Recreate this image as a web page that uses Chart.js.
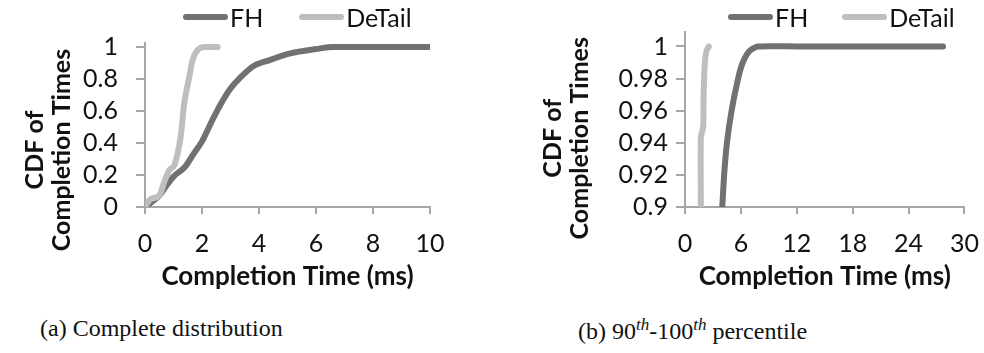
<!DOCTYPE html>
<html lang="en">
<head>
  <meta charset="UTF-8">
  <title>CDF of Completion Times</title>
  <script src="https://cdn.jsdelivr.net/npm/chart.js"></script>
  <style>
    body { margin: 0; background: #fff; width: 984px; height: 353px; position: relative; overflow: hidden; }
    .panel { position: absolute; top: 0; height: 300px; }
    #left { left: 0; width: 460px; }
    #right { left: 490px; width: 504px; }
    .legend {
      position: absolute; top: 2px; height: 30px;
      display: flex; align-items: center; gap: 36px;
      font-family: Lato, "Open Sans", sans-serif; font-size: 25px; color: #111;
    }
    .legend .item { display: flex; align-items: center; }
    .legend .swatch { width: 45px; height: 6px; border-radius: 3px; margin-right: 2px; }
    .caption {
      position: absolute; top: 315px;
      font-family: "Liberation Serif", "DejaVu Serif", serif;
      font-size: 24px; color: #111; white-space: nowrap;
    }
    .caption sup { font-size: 17px; font-style: italic; }
  </style>
</head>
<body>
  <div class="panel" id="left"><canvas id="chartA"></canvas></div>
  <div class="panel" id="right"><canvas id="chartB"></canvas></div>
  <div class="legend" id="legendA" style="left:183px"></div>
  <div class="legend" id="legendB" style="left:728px;gap:34px"></div>
  <div class="caption" style="left:40px">(a) Complete distribution</div>
  <div class="caption" style="left:578px">(b) 90<sup>th</sup>-100<sup>th</sup> percentile</div>

  <script>
    // (a) complete distribution
    const fhTimes = [0, 0.3, 0.5, 0.7, 1.0, 1.4, 1.7, 2.0, 2.3, 2.65, 3.0, 3.35, 3.8, 4.4, 5.1, 6.0, 6.6, 8, 10];
    const fhCdf   = [0, 0.04, 0.07, 0.12, 0.19, 0.25, 0.33, 0.41, 0.52, 0.64, 0.74, 0.81, 0.88, 0.92, 0.96, 0.987, 1.0, 1.0, 1.0];
    const dtTimes = [0, 0.2, 0.5, 0.68, 0.85, 1.03, 1.14, 1.26, 1.37, 1.55, 1.67, 1.84, 2.1, 2.55];
    const dtCdf   = [0, 0.05, 0.07, 0.16, 0.23, 0.26, 0.33, 0.45, 0.64, 0.81, 0.92, 0.98, 1.0, 1.0];

    // (b) 90th-100th percentile
    const fhTailTimes = [4.0, 4.2, 4.5, 5.0, 5.7, 6.2, 6.9, 7.8, 12, 20, 27.7];
    const fhTailCdf   = [0.9, 0.92, 0.94, 0.96, 0.98, 0.99, 0.997, 1.0, 1.0, 1.0, 1.0];
    const dtTailTimes = [1.7, 1.7, 1.95, 2.0, 2.13, 2.3, 2.55];
    const dtTailCdf   = [0.9, 0.943, 0.95, 0.97, 0.99, 0.997, 1.0];

    const ticksA = [0, 0.2, 0.4, 0.6, 0.8, 1];
    const ticksB = [0.9, 0.92, 0.94, 0.96, 0.98, 1];

    const FONT = 'Lato, "Open Sans", sans-serif';
    const AXIS = '#a6a6a6';
    const FH_COLOR = '#717171';
    const DT_COLOR = '#bebebe';

    function pts(xs, ys) {
      return xs.map((x, i) => ({ x: x, y: ys[i] }));
    }

    // legend built from the chart's own datasets
    function htmlLegend(chart, id) {
      const box = document.getElementById(id);
      chart.data.datasets.forEach(ds => {
        const item = document.createElement('div');
        item.className = 'item';
        item.innerHTML = `<span class="swatch" style="background:${ds.borderColor}"></span><span>${ds.label}</span>`;
        box.appendChild(item);
      });
    }

    function makeChart(id, opts) {
      const line = (label, xs, ys, color, order) => ({
        label: label,
        data: pts(xs, ys),
        borderColor: color,
        backgroundColor: color,
        borderWidth: 6,
        borderCapStyle: 'round',
        borderJoinStyle: 'round',
        pointRadius: 0,
        tension: opts.tension,
        cubicInterpolationMode: opts.mono ? 'monotone' : 'default',
        order: order
      });
      return new Chart(document.getElementById(id), {
        type: 'line',
        data: {
          datasets: [
            line('FH', opts.fhX, opts.fhY, FH_COLOR, 1),
            line('DeTail', opts.dtX, opts.dtY, DT_COLOR, 0)
          ]
        },
        options: {
          responsive: true,
          maintainAspectRatio: false,
          animation: false,
          layout: { padding: { top: opts.padTop, right: opts.padRight, bottom: 0, left: 0 } },
          plugins: {
            tooltip: { enabled: false },
            legend: { display: false }
          },
          scales: {
            x: {
              type: 'linear',
              min: 0,
              max: opts.xMax,
              ticks: {
                stepSize: opts.xStep,
                color: '#111',
                padding: 15,
                maxRotation: 0,
                font: { family: FONT, size: 25 }
              },
              grid: { drawOnChartArea: false, drawTicks: true, tickLength: 7, color: AXIS, lineWidth: 2 },
              border: { display: true, color: AXIS, width: 2 },
              title: {
                display: true,
                text: 'Completion Time (ms)',
                color: '#111',
                padding: { top: 4, bottom: 8 },
                font: { family: FONT, size: 26, weight: 'bold' }
              },
              afterFit: s => { s.height = 93; }
            },
            y: {
              type: 'linear',
              min: opts.yMin,
              max: opts.yMax,
              afterBuildTicks: s => { s.ticks = opts.yTicks.map(v => ({ value: v })); },
              ticks: {
                autoSkip: false,
                color: '#111',
                padding: opts.yTickPad,
                font: { family: FONT, size: 25 },
                callback: v => String(+v.toFixed(2))
              },
              grid: { drawOnChartArea: false, drawTicks: true, tickLength: 9, color: AXIS, lineWidth: 2 },
              border: { display: true, color: AXIS, width: 2 },
              title: {
                display: true,
                // trailing spaces push the rotated title a little lower, as in the original
                text: ['CDF of' + opts.tail, 'Completion Times' + opts.tail],
                color: '#111',
                padding: { top: opts.yTitlePad, bottom: 0 },
                font: { family: FONT, size: 25, weight: 'bold', lineHeight: 1.1 }
              },
              afterFit: s => { s.width = opts.yWidth; }
            }
          }
        }
      });
    }

    const chartA = makeChart('chartA', {
      fhX: fhTimes, fhY: fhCdf, dtX: dtTimes, dtY: dtCdf,
      xMax: 10, xStep: 2, yMin: 0, yMax: 1.025, yTicks: ticksA,
      yWidth: 145, yTitlePad: 21, yTickPad: 18, tail: '\u2002\u2002\u2002\u2002',
      padTop: 43, padRight: 30, tension: 0.4, mono: true
    });

    const chartB = makeChart('chartB', {
      fhX: fhTailTimes, fhY: fhTailCdf, dtX: dtTailTimes, dtY: dtTailCdf,
      xMax: 30, xStep: 6, yMin: 0.9, yMax: 1.009, yTicks: ticksB,
      yWidth: 195, yTitlePad: 49, yTickPad: 8, tail: '\u2002\u2002\u2002',
      padTop: 32, padRight: 0, tension: 0.2, mono: false
    });

    htmlLegend(chartA, 'legendA');
    htmlLegend(chartB, 'legendB');
  </script>
</body>
</html>
